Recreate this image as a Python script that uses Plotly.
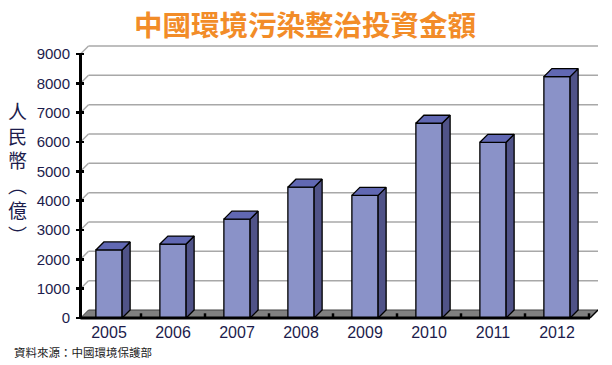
import plotly.graph_objects as go

# ---- data ----
years = ["2005", "2006", "2007", "2008", "2009", "2010", "2011", "2012"]
values = [2320, 2520, 3370, 4460, 4180, 6640, 5990, 8230]
y_ticks = [0, 1000, 2000, 3000, 4000, 5000, 6000, 7000, 8000, 9000]

title_text = "中國環境污染整治投資金額"
y_title_chars = ["人", "民", "幣", "︵", "億", "︶"]
source_text = "資料來源：中國環境保護部"

# ---- style / geometry constants ----
BAR_W = 0.41          # front face width (category units)
DX = 0.125            # depth offset in x (category units)
DY = 272.7            # depth offset in y (value units)
AX_X = -0.4453        # position of the front-left corner (y axis)
FLOOR_R = 7.5156      # front-right corner of the floor
X_RANGE = [-0.5156, 7.6406]
Y_RANGE = [-102.3, 9341]
NAVY = "#1c1c4c"
FRONT = "#8a92c8"
TOP = "#6168b3"
SIDE = "#505388"

W, H = 612, 365
ML, MR, MT, MB = 76, 14, 44, 44
PW, PH = W - ML - MR, H - MT - MB

xs = list(range(len(years)))

fig = go.Figure()

# front faces as real bars
fig.add_trace(go.Bar(
    x=xs, y=values, width=BAR_W,
    marker=dict(color=FRONT, line=dict(color="black", width=1.3)),
    hoverinfo="skip",
))

# side and top faces computed from the values
side_x, side_y, top_x, top_y = [], [], [], []
for i, v in zip(xs, values):
    x0, x1 = i - BAR_W / 2, i + BAR_W / 2
    side_x += [x1, x1, x1 + DX, x1 + DX, x1, None]
    side_y += [0, v, v + DY, DY, 0, None]
    top_x += [x0, x1, x1 + DX, x0 + DX, x0, None]
    top_y += [v, v, v + DY, v + DY, v, None]

fig.add_trace(go.Scatter(x=side_x, y=side_y, mode="lines", fill="toself",
                         fillcolor=SIDE, line=dict(color="black", width=1.3),
                         hoverinfo="skip"))
fig.add_trace(go.Scatter(x=top_x, y=top_y, mode="lines", fill="toself",
                         fillcolor=TOP, line=dict(color="black", width=1.3),
                         hoverinfo="skip"))

shapes = []
# back-wall gridlines with the diagonal on the side wall
for t in y_ticks[1:]:
    shapes.append(dict(type="line", xref="x", yref="y", x0=AX_X, y0=t,
                       x1=AX_X + DX, y1=t + DY,
                       line=dict(color="#a8a8a8", width=1.5), layer="below"))
    shapes.append(dict(type="line", xref="x", yref="y", x0=AX_X + DX, y0=t + DY,
                       x1=X_RANGE[1], y1=t + DY,
                       line=dict(color="#a8a8a8", width=1.5), layer="below"))
# floor
shapes.append(dict(type="path", xref="x", yref="y",
                   path=f"M {AX_X},0 L {FLOOR_R},0 L {FLOOR_R + DX},{DY} L {AX_X + DX},{DY} Z",
                   fillcolor="#808080", line=dict(color="#404040", width=1), layer="below"))
# floor tick marks between categories
for i in xs:
    shapes.append(dict(type="line", xref="x", yref="y", x0=i + 0.5, y0=0,
                       x1=i + 0.5, y1=160, line=dict(color="black", width=2.5), layer="below"))
# axis lines
shapes.append(dict(type="line", xref="x", yref="y", x0=AX_X, y0=0, x1=AX_X, y1=y_ticks[-1],
                   line=dict(color="black", width=3)))
shapes.append(dict(type="line", xref="x", yref="y", x0=AX_X, y0=0, x1=FLOOR_R, y1=0,
                   line=dict(color="black", width=3)))
shapes.append(dict(type="line", xref="x", yref="y", x0=FLOOR_R, y0=0, x1=FLOOR_R + DX, y1=DY,
                   line=dict(color="black", width=1.5)))

# annotation positions (target page pixels converted to paper coords)
def px_x(p):
    return (p - ML) / PW

def px_y(p):
    return (MT + PH - p) / PH

annotations = [
    dict(text=f"<b>{title_text}</b>", xref="paper", yref="paper",
         x=px_x(305), y=px_y(23),
         xanchor="center", yanchor="middle", showarrow=False,
         font=dict(family="Noto Sans CJK TC", size=28.5, color="#f28c28")),
    dict(text="<br>".join(y_title_chars), xref="paper", yref="paper",
         x=px_x(17), y=px_y(172),
         xanchor="center", yanchor="middle", showarrow=False,
         font=dict(family="Noto Sans CJK TC", size=19, color=NAVY)),
    dict(text=source_text, xref="paper", yref="paper",
         x=px_x(12), y=px_y(352),
         xanchor="left", yanchor="middle", showarrow=False,
         font=dict(family="Noto Sans CJK TC", size=11.5, color="#222222")),
]

fig.update_layout(
    width=W, height=H,
    margin=dict(l=ML, r=MR, t=MT, b=MB, pad=0),
    plot_bgcolor="white", paper_bgcolor="white",
    showlegend=False,
    hovermode=False,
    shapes=shapes,
    annotations=annotations,
    xaxis=dict(range=X_RANGE, tickvals=xs, ticktext=years, showgrid=False,
               zeroline=False, showline=False, ticks="",
               tickfont=dict(family="Liberation Sans", size=16, color=NAVY),
               fixedrange=True),
    yaxis=dict(range=Y_RANGE, tickvals=y_ticks, showgrid=False, zeroline=False,
               showline=False, ticks="inside", ticklen=8, tickwidth=2.5,
               tickcolor="black", ticklabelstandoff=5,
               tickfont=dict(family="Liberation Sans", size=15, color=NAVY),
               fixedrange=True),
)

fig.write_html("out.html",
               config={"displayModeBar": False, "staticPlot": True},
               post_script="document.body.style.margin='0';document.body.style.overflow='hidden';")
